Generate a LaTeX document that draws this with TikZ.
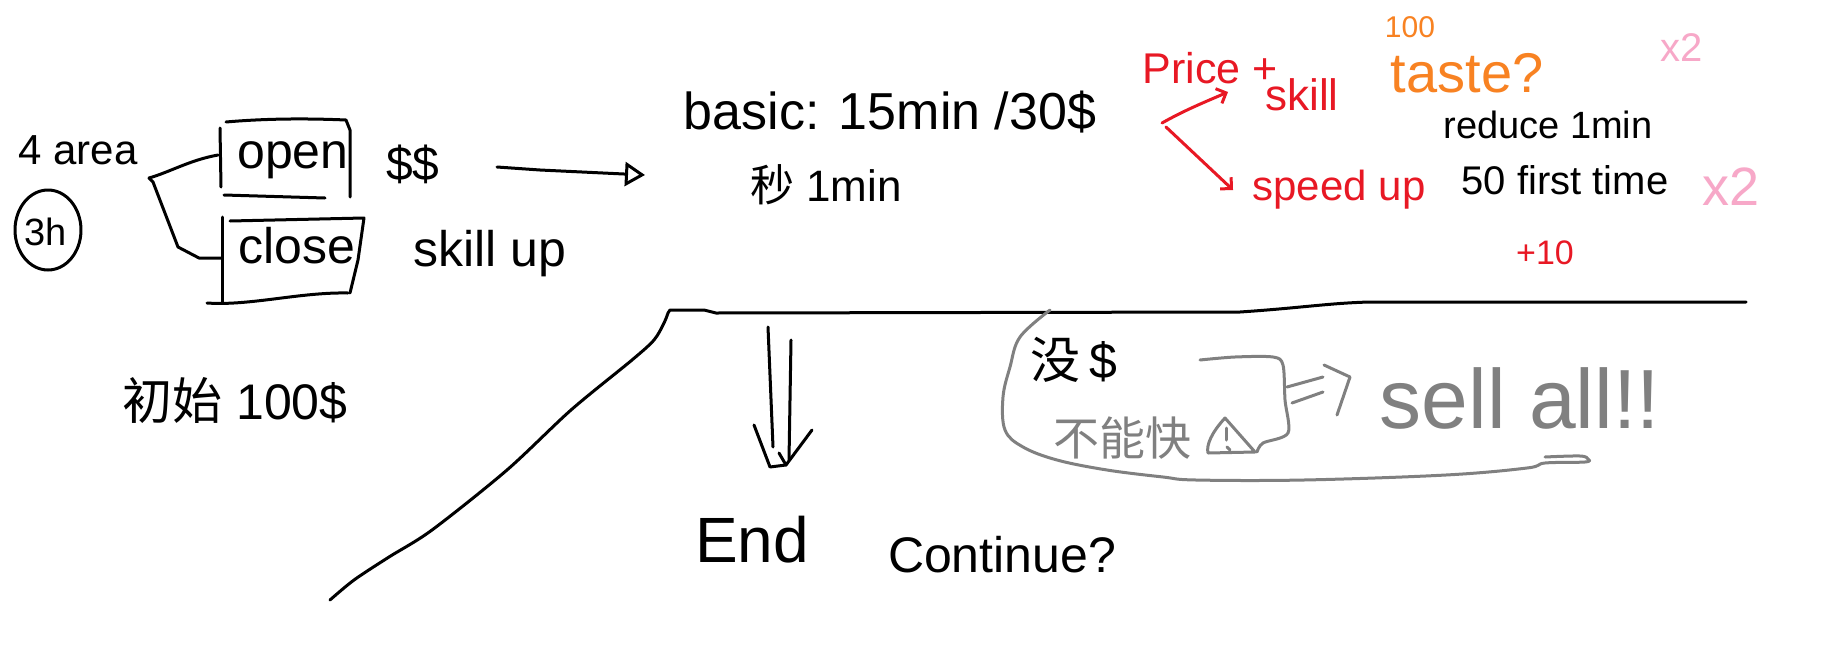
\documentclass[tikz,border=0pt]{standalone}
\usepackage{fontspec}
\setmainfont{Liberation Sans}
\newfontfamily\cjk{Noto Sans CJK SC}
\usetikzlibrary{arrows.meta}
\definecolor{pred}{RGB}{232,24,36}
\definecolor{porange}{RGB}{248,130,34}
\definecolor{ppink}{RGB}{247,168,200}
\definecolor{pgray}{RGB}{128,128,128}
\newcommand{\fsz}[1]{\fontsize{#1}{#1}\selectfont}
\begin{document}
\begin{tikzpicture}[x=1pt,y=-1pt,line width=3pt,line cap=round,line join=round,
  txt/.style={inner sep=0pt,anchor=center},
  redtxt/.style={txt,text=pred},
  graystroke/.style={draw=pgray,line width=3pt}]
\useasboundingbox (0,0) rectangle (1844,648);
\fill[white] (0,0) rectangle (1844,648);

% left part
\node[txt] (area) at (78,150) {\fsz{42}4 area};
\node[txt] (hrs) at (46,232) {\fsz{38}3h};
\draw (48,230) ellipse [x radius=33,y radius=40];

\node[txt] (open) at (293,160) {\fsz{50}open};
\node[txt] (close) at (297,246) {\fsz{50}close};
\draw (220,128) -- (221,187);
\draw (226,122) .. controls (260,119) and (300,118) .. (346,120) -- (350,130) -- (350,197);
\draw (224,195) -- (325,198);
\draw (222,217) -- (222,302);
\draw (230,221) -- (364,218) -- (358,260) -- (350,293);
\draw (207,303) .. controls (250,306) and (300,292) .. (348,293);

\coordinate (brk) at (149,178);
\coordinate (openL) at (218,155);
\coordinate (closeL) at (221,258);
\draw (brk) .. controls (170,172) and (190,160) .. (openL);
\draw (brk) -- (153,182) -- (178,247) -- (199,258) -- (closeL);

\node[txt] (dollars) at (413,164) {\fsz{48}\$\$};
\node[txt] (skillup) at (490,254) {\fsz{50}skill up};

\coordinate (arrS) at (497,167);
\coordinate (arrE) at (645,175);
\draw[-{Triangle[open,length=20pt,width=24pt]}] (arrS) -- (540,170) -- (arrE);

\node[txt] (basic) at (890,112) {\fsz{52}basic: 15min /30\$};
\node[txt] (sec) at (826,185) {\fsz{44}{\cjk 秒} 1min};
\node[txt] (init) at (235,400) {\fsz{50}{\cjk 初始} 100\$};

% red notes
\node[redtxt] (price) at (1210,68) {\fsz{43}Price +};
\node[redtxt] (skill) at (1302,95) {\fsz{44}skill};
\node[redtxt] (speed) at (1339,190) {\fsz{42}speed up};
\node[redtxt] (plusten) at (1545,253) {\fsz{34}+10};
\coordinate (rp) at (1162,123);
\coordinate (ru) at (1228,92);
\coordinate (rd) at (1233,190);
\draw[pred,-{Straight Barb[length=8pt,width=16pt]}] (rp) .. controls (1185,110) and (1205,102) .. (ru);
\draw[pred,-{Straight Barb[length=8pt,width=16pt]}] (1166,127) -- (rd);

% orange
\node[txt,text=porange] (hundred) at (1410,27) {\fsz{30}100};
\node[txt,text=porange] (taste) at (1467,73) {\fsz{56}taste?};

% black notes right
\node[txt] (reduce) at (1548,125) {\fsz{38}reduce 1min};
\node[txt] (first) at (1565,180) {\fsz{40}50 first time};

% pink
\node[txt,text=ppink] (xtwoA) at (1682,48) {\fsz{40}x2};
\node[txt,text=ppink] (xtwoB) at (1731,187) {\fsz{54}x2};

% long line + diagonal
\draw plot[smooth,tension=0.5] coordinates {(330,600) (354,580) (389,557) (432,530) (507,470) (571,410) (632,360) (654,340) (664,323) (668,313)}
  -- (670,310) -- (704,310) -- (716,313) -- (1240,312) .. controls (1300,308) and (1330,303) .. (1370,302) -- (1746,302);

% down arrow
\coordinate (dL) at (768,327);
\coordinate (dR) at (791,340);
\node[txt] (endn) at (752,540) {\fsz{64}End};
\draw (dL) -- (773,447);
\draw (dR) -- (789,460);
\draw (754,425) -- (770,467) -- (786,465) -- (812,430);
\draw (779,453) -- (786,465);

\node[txt] (cont) at (1002,555) {\fsz{50}Continue?};

% gray region
\draw[graystroke] plot[smooth,tension=0.6] coordinates {(1050,310) (1020,337) (1010,367) (1003,397) (1005,430) (1023,447) (1057,460) (1107,470) (1163,477) (1196,480) (1304,480) (1446,475) (1527,468) (1545,463) (1585,462) (1588,459) (1580,456) (1545,457)};
\draw[graystroke] plot[smooth,tension=0.5] coordinates {(1200,360) (1235,357) (1273,357) (1283,365) (1285,400) (1288,433) (1263,443) (1257,452)};
\draw[graystroke] (1225,418) .. controls (1212,432) and (1206,445) .. (1208,453) -- (1255,452) -- cycle;
\draw[graystroke] (1226,428) -- (1226,440);
\draw[graystroke] (1227,447) -- (1230,450);
\coordinate (gaS) at (1287,387);
\coordinate (gaT) at (1350,377);
\draw[graystroke] (gaS) -- (1323,377);
\draw[graystroke] (1292,403) -- (1323,392);
\draw[graystroke] (1324,365) -- (gaT) -- (1337,415);

\node[txt] (nomoney) at (1074,360) {\fsz{50}{\cjk 没}\,\$};
\node[txt,text=pgray] (cant) at (1122,438) {\fsz{46}\cjk 不能快};
\node[txt,text=pgray] (sell) at (1520,398) {\fsz{84}sell all!!};
\end{tikzpicture}
\end{document}
